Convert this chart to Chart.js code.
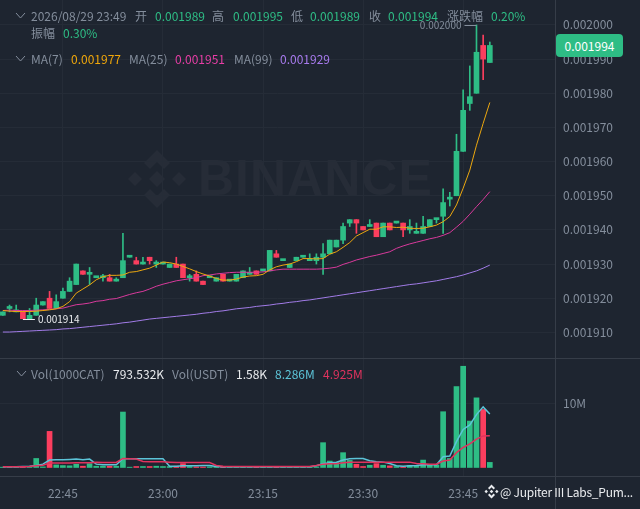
<!DOCTYPE html>
<html>
<head>
<meta charset="utf-8">
<script src="https://cdn.jsdelivr.net/npm/chart.js@4"></script>
<style>
  html, body { margin: 0; padding: 0; background: #1e2530; }
  #wrap { position: relative; width: 640px; height: 509px; overflow: hidden; font-family: "Noto Sans CJK SC", "Noto Sans", sans-serif; font-size: 12px; color: #848e9c; }
  #wrap span { position: absolute; white-space: nowrap; line-height: 16px; }
  canvas { position: absolute; left: 0; top: 0; }
  .g { color: #2ebd85; }
  .w { color: #eaecef; }
  #mark { position: absolute; left: 198px; top: 141px; font: bold 50px "Liberation Sans", sans-serif; letter-spacing: 1px; color: #262c37; line-height: 74px; }
  #pill { position: absolute; left: 556px; top: 34px; width: 67px; height: 23px; border-radius: 4px; background: #2ebd85; color: #fff; text-align: center; line-height: 23px; }
  svg { position: absolute; }
</style>
</head>
<body>
<div id="wrap">
  <svg style="left:126px;top:148px" width="62" height="62" viewBox="0 0 62 62" fill="#262c37">
    <path d="M31 2 L44 15 L38 21 L31 14 L24 21 L18 15 Z"/>
    <path d="M31 60 L18 47 L24 41 L31 48 L38 41 L44 47 Z"/>
    <path d="M2 31 L9 24 L16 31 L9 38 Z"/>
    <path d="M60 31 L53 24 L46 31 L53 38 Z"/>
    <path d="M31 23 L39 31 L31 39 L23 31 Z"/>
  </svg>
  <div id="mark">BINANCE</div>
  <canvas id="myChart" width="640" height="509"></canvas>

  <svg style="left:14px;top:11px" width="12" height="10" fill="none" stroke="#848e9c"><path d="M2 2 L6.5 7 L11 2"/></svg>
  <span style="left:31px;top:8px">2026/08/29 23:49</span>
  <span style="left:135px;top:8px">开</span><span class="g" style="left:155px;top:8px">0.001989</span>
  <span style="left:212px;top:8px">高</span><span class="g" style="left:233px;top:8px">0.001995</span>
  <span style="left:291px;top:8px">低</span><span class="g" style="left:310px;top:8px">0.001989</span>
  <span style="left:369px;top:8px">收</span><span class="g" style="left:388px;top:8px">0.001994</span>
  <span style="left:447px;top:8px">涨跌幅</span><span class="g" style="left:491px;top:8px">0.20%</span>
  <span style="left:31px;top:25px">振幅</span><span class="g" style="left:63px;top:25px">0.30%</span>

  <svg style="left:14px;top:54px" width="12" height="10" fill="none" stroke="#848e9c"><path d="M2 2 L6.5 7 L11 2"/></svg>
  <span style="left:31px;top:51px">MA(7)</span><span style="left:71px;top:51px;color:#f0a70a">0.001977</span>
  <span style="left:129px;top:51px">MA(25)</span><span style="left:175px;top:51px;color:#e83ea6">0.001951</span>
  <span style="left:234px;top:51px">MA(99)</span><span style="left:280px;top:51px;color:#a87bee">0.001929</span>

  <svg style="left:15px;top:369px" width="12" height="10" fill="none" stroke="#848e9c"><path d="M2 2 L6.5 7 L11 2"/></svg>
  <span style="left:31px;top:366px">Vol(1000CAT)</span><span class="w" style="left:113px;top:366px">793.532K</span>
  <span style="left:172px;top:366px">Vol(USDT)</span><span class="w" style="left:236px;top:366px">1.58K</span>
  <span style="left:275px;top:366px;color:#5cc4d8">8.286M</span><span style="left:323px;top:366px;color:#e0335e">4.925M</span>

  <div id="pill">0.001994</div>

  <svg style="left:484px;top:484px" width="15" height="15" viewBox="0 0 15 15" fill="#eaecef">
    <path d="M7.5 0.5 L11 4 L9.6 5.4 L7.5 3.3 L5.4 5.4 L4 4 Z"/>
    <path d="M7.5 14.5 L4 11 L5.4 9.6 L7.5 11.7 L9.6 9.6 L11 11 Z"/>
    <path d="M0.5 7.5 L2.2 5.8 L3.9 7.5 L2.2 9.2 Z"/>
    <path d="M14.5 7.5 L12.8 5.8 L11.1 7.5 L12.8 9.2 Z"/>
    <path d="M7.5 5.7 L9.3 7.5 L7.5 9.3 L5.7 7.5 Z"/>
  </svg>
  <span class="w" style="left:500px;top:484px;font-size:12px;letter-spacing:-0.25px">@ Jupiter III Labs_Pum...</span>
</div>

<script>
// minutes from 22:36 to 23:49
var categories = ['22:36','22:37','22:38','22:39','22:40','22:41','22:42','22:43','22:44','22:45','22:46','22:47','22:48','22:49','22:50','22:51','22:52','22:53','22:54','22:55','22:56','22:57','22:58','22:59','23:00','23:01','23:02','23:03','23:04','23:05','23:06','23:07','23:08','23:09','23:10','23:11','23:12','23:13','23:14','23:15','23:16','23:17','23:18','23:19','23:20','23:21','23:22','23:23','23:24','23:25','23:26','23:27','23:28','23:29','23:30','23:31','23:32','23:33','23:34','23:35','23:36','23:37','23:38','23:39','23:40','23:41','23:42','23:43','23:44','23:45','23:46','23:47','23:48','23:49'];

var opens = [0.001915,0.001917,0.001916,0.001916,0.001914,0.001915,0.001918,0.00192,0.001917,0.00192,0.001922,0.001924,0.001928,0.001927,0.001926,0.001926,0.001926,0.001925,0.001926,0.001932,0.001931,0.00193,0.001932,0.00193,0.00193,0.001929,0.00193,0.00193,0.001926,0.001927,
  0.001925,0.001926,0.001925,0.001927,0.001925,0.001925,0.001926,0.001927,0.001928,0.001928,0.001928,0.001933,0.001931,0.001929,0.001931,0.001932,0.001931,0.001931,0.001932,0.001933,0.001935,0.001937,0.001942,0.001943,0.001941,0.001941,0.001942,0.001938,0.001942,0.001942,
  0.001942,0.00194,0.001939,0.001939,0.001941,0.001943,0.001944,0.001949,0.00195,0.001963,0.001977,0.00198,0.001994,0.001989];
var highs = [0.001916,0.001918,0.001918,0.001916,0.001917,0.00192,0.001919,0.001922,0.001921,0.001923,0.001926,0.00193,0.001928,0.001929,0.001926,0.001927,0.001927,0.001926,0.001939,0.001932,0.001932,0.001932,0.001932,0.001931,0.00193,0.00193,0.001932,0.00193,0.001927,0.001928,
  0.001925,0.001926,0.001926,0.001927,0.001925,0.001927,0.001928,0.001929,0.001928,0.001928,0.001934,0.001934,0.001931,0.00193,0.001932,0.001932,0.001933,0.001933,0.001936,0.001937,0.001937,0.001942,0.001943,0.001943,0.001941,0.001943,0.001942,0.001942,0.001942,0.001942,
  0.001942,0.001943,0.001942,0.001944,0.001943,0.001943,0.001952,0.001951,0.001968,0.001981,0.001988,0.002,0.001997,0.001995];
var lows = [0.001915,0.001916,0.001916,0.001914,0.001914,0.001915,0.001918,0.001917,0.001917,0.00192,0.001922,0.001924,0.001927,0.001924,0.001926,0.001925,0.001925,0.001925,0.001926,0.001932,0.00193,0.00193,0.00193,0.001929,0.00193,0.001929,0.001929,0.001926,0.001925,0.001925,
  0.001924,0.001926,0.001925,0.001925,0.001925,0.001925,0.001926,0.001927,0.001927,0.001928,0.001928,0.001932,0.001931,0.001929,0.001931,0.001932,0.001931,0.00193,0.001927,0.001933,0.001935,0.001936,0.001941,0.001939,0.00194,0.001941,0.001938,0.001938,0.00194,0.001942,
  0.001938,0.001939,0.001939,0.001939,0.001941,0.001942,0.001939,0.001947,0.00195,0.001963,0.001975,0.00198,0.001984,0.001989];
var closes = [0.001916,0.001917,0.001916,0.001914,0.001915,0.001918,0.001919,0.001917,0.001919,0.001922,0.001925,0.00193,0.001927,0.001927,0.001926,0.001926,0.001925,0.001925,0.001931,0.001932,0.00193,0.00193,0.001931,0.00193,0.00193,0.00193,0.001929,0.001926,0.001926,0.001925,
  0.001924,0.001926,0.001926,0.001925,0.001925,0.001927,0.001928,0.001927,0.001927,0.001928,0.001934,0.001932,0.001931,0.00193,0.001932,0.001932,0.001931,0.001932,0.001933,0.001937,0.001937,0.001941,0.001943,0.001942,0.00194,0.001941,0.001938,0.001942,0.00194,0.001942,
  0.00194,0.001941,0.001939,0.001941,0.001943,0.001943,0.001948,0.001949,0.001963,0.001975,0.001979,0.001992,0.00199,0.001994];

var ma7 = [0.0019164,0.0019162,0.0019161,0.0019161,0.0019161,0.0019162,0.0019164,0.0019166,0.0019169,0.0019176,0.001919,0.0019215,0.0019227,0.0019239,0.0019254,0.0019263,0.0019267,0.0019267,0.0019268,0.0019276,0.0019278,0.0019283,0.0019288,0.0019297,0.0019306,0.0019304,0.00193,0.0019293,0.0019286,0.0019278,
  0.0019271,0.0019265,0.0019258,0.0019253,0.0019253,0.0019256,0.0019262,0.0019265,0.0019266,0.001927,0.0019283,0.0019292,0.0019297,0.00193,0.0019307,0.0019316,0.0019316,0.0019315,0.0019316,0.0019329,0.0019336,0.0019349,0.0019363,0.0019382,0.0019392,0.0019402,0.0019402,0.0019409,0.0019409,0.0019407,
  0.0019408,0.0019405,0.0019404,0.0019405,0.0019409,0.0019414,0.0019424,0.0019439,0.0019473,0.0019522,0.0019575,0.0019648,0.0019712,0.0019773];
var ma25 = [0.0019164,0.0019165,0.0019164,0.0019164,0.0019164,0.0019165,0.0019166,0.0019167,0.0019169,0.0019171,0.0019176,0.0019181,0.0019183,0.0019186,0.0019191,0.0019193,0.0019197,0.0019199,0.0019205,0.0019211,0.0019216,0.001922,0.0019227,0.0019235,0.0019241,0.0019246,0.0019251,0.0019254,0.0019257,0.001926,
  0.0019266,0.0019268,0.0019271,0.0019273,0.0019275,0.0019276,0.0019276,0.0019276,0.0019276,0.0019277,0.001928,0.0019283,0.0019285,0.0019285,0.0019285,0.0019285,0.0019285,0.0019285,0.0019286,0.0019288,0.0019291,0.0019299,0.0019305,0.0019312,0.0019317,0.0019322,0.0019326,0.0019331,0.0019336,0.0019346,
  0.0019353,0.0019359,0.0019364,0.0019369,0.0019374,0.0019378,0.0019384,0.0019392,0.0019408,0.0019425,0.0019446,0.0019468,0.0019489,0.0019512];
var ma99 = [0.0019101,0.0019101,0.0019102,0.0019103,0.0019104,0.0019105,0.0019106,0.0019107,0.0019108,0.001911,0.0019111,0.0019113,0.0019115,0.0019117,0.0019119,0.0019121,0.0019123,0.0019125,0.0019128,0.001913,0.0019133,0.0019136,0.0019139,0.0019141,0.0019143,0.0019145,0.0019147,0.0019149,0.0019151,0.0019153,
  0.0019156,0.0019158,0.0019161,0.0019163,0.0019166,0.0019169,0.0019171,0.0019173,0.0019176,0.0019178,0.001918,0.0019183,0.0019185,0.0019188,0.001919,0.0019193,0.0019195,0.0019198,0.0019201,0.0019204,0.0019207,0.001921,0.0019213,0.0019216,0.0019219,0.0019222,0.0019225,0.0019228,0.0019231,0.0019234,
  0.0019237,0.001924,0.0019242,0.0019245,0.0019248,0.0019251,0.0019255,0.0019259,0.0019263,0.0019268,0.0019274,0.001928,0.0019288,0.0019297];

// volumes in millions
var volumes = [0.05,0.06,0.05,0.08,0.06,1.4,0.1,5.6,0.4,0.3,0.26,0.5,0.2,0.6,0.2,0.2,0.2,0.2,8.6,0.05,0.15,0.15,0.15,0.2,0.15,0.15,0.2,0.6,0.15,0.1,
  0.08,0.1,0.06,0.1,0.08,0.05,0.08,0.06,0.1,0.05,0.08,0.06,0.08,0.06,0.05,0.08,0.1,0.1,3.85,1.0,0.8,2.3,1.1,0.5,0.15,0.35,0.6,0.35,0.25,0.15,
  0.1,0.3,0.3,1.15,0.5,0.4,8.65,1.4,12.55,15.7,7.2,10.8,9.0,0.79];
var volMa5 = [0.1,0.1,0.1,0.15,0.2,0.31,0.52,1.15,1.2,1.2,1.25,1.3,1.2,1.3,0.52,0.42,0.42,0.42,1.35,1.35,1.35,1.35,1.35,1.35,1.35,0.2,0.2,0.26,0.26,0.26,
  0.31,0.31,0.16,0.1,0.1,0.1,0.1,0.1,0.1,0.1,0.1,0.1,0.1,0.1,0.1,0.1,0.1,0.26,0.57,0.73,0.83,1.15,1.35,1.4,1.4,1.04,0.89,0.83,0.62,0.26,
  0.2,0.26,0.31,0.42,0.42,0.42,1.67,1.77,4.0,5.9,6.6,8.2,9.4,8.286];
var volMa10 = [0.1,0.1,0.1,0.12,0.16,0.26,0.36,0.68,0.68,0.68,0.68,0.73,0.73,0.73,0.83,0.78,0.78,0.78,1.4,1.35,1.3,0.94,0.89,0.89,0.89,0.83,0.78,0.78,0.78,0.78,
  0.78,0.78,0.31,0.2,0.16,0.16,0.16,0.16,0.16,0.16,0.16,0.16,0.16,0.16,0.16,0.16,0.16,0.31,0.52,0.57,0.57,0.73,0.83,0.83,0.83,0.83,0.83,0.83,0.83,0.83,
  0.83,0.83,0.62,0.57,0.52,0.52,1.0,1.15,2.3,3.1,3.65,4.4,4.9,4.925];

var priceTicks = [0.00191,0.00192,0.00193,0.00194,0.00195,0.00196,0.00197,0.00198,0.00199,0.002];
var volTicks = [10];
var timeTicks = [9,24,39,54,69];

var GREEN = '#2ebd85', RED = '#fb3e5e', GRID = '#252c37', EDGE = '#363d48';

function pairs(a, b) {
  return categories.map(function (c, i) { return { x: i, y: [a[i], b[i]] }; });
}
function points(a) {
  return categories.map(function (c, i) { return { x: i, y: a[i] }; });
}
var upDown = categories.map(function (c, i) { return closes[i] >= opens[i] ? GREEN : RED; });

function line(values, color, axis, width) {
  return { type: 'line', data: points(values), borderColor: color, borderWidth: width, pointRadius: 0, tension: 0, yAxisID: axis, order: 0 };
}
function noPadding(s) {
  s.paddingTop = s.paddingBottom = s.paddingLeft = s.paddingRight = 0;
}

// high / low marks next to the extreme candles
var extremes = {
  id: 'extremes',
  afterDatasetsDraw: function (chart) {
    var c = chart.ctx, x = chart.scales.x, y = chart.scales.y;
    c.save();
    c.font = '10px "Noto Sans CJK SC"';
    c.textBaseline = 'middle';
    c.lineWidth = 1;
    var hi = Math.round(y.getPixelForValue(0.002)) + 0.5;
    var hx = x.getPixelForValue(71);
    c.strokeStyle = c.fillStyle = '#848e9c';
    c.beginPath(); c.moveTo(hx - 12, hi); c.lineTo(hx, hi); c.stroke();
    c.textAlign = 'right';
    c.fillText('0.002000', hx - 15, hi);
    var lo = Math.round(y.getPixelForValue(0.001914)) + 0.5;
    var lx = x.getPixelForValue(3);
    c.strokeStyle = c.fillStyle = '#eaecef';
    c.beginPath(); c.moveTo(lx, lo); c.lineTo(lx + 12, lo); c.stroke();
    c.textAlign = 'left';
    c.fillText('0.001914', lx + 15, lo);
    c.restore();
  }
};

// pane separators run past the plot area
var separators = {
  id: 'separators',
  afterDraw: function (chart) {
    var c = chart.ctx, x = chart.scales.x, y = chart.scales.y;
    c.save();
    c.strokeStyle = EDGE;
    c.lineWidth = 1;
    c.beginPath();
    c.moveTo(0, Math.round(y.bottom) + 0.5); c.lineTo(chart.width, Math.round(y.bottom) + 0.5);
    c.moveTo(0, Math.round(x.top) + 0.5); c.lineTo(chart.width, Math.round(x.top) + 0.5);
    c.moveTo(Math.round(x.right) + 0.5, 0); c.lineTo(Math.round(x.right) + 0.5, chart.height);
    c.stroke();
    c.restore();
  }
};

var ctx = document.getElementById('myChart').getContext('2d');
var chart = new Chart(ctx, {
  type: 'bar',
  plugins: [extremes, separators],
  data: {
    datasets: [
      line(ma7, '#eda80f', 'y', 1),
      line(ma25, '#d93a9c', 'y', 1),
      line(ma99, '#a27ce8', 'y', 1),
      line(volMa10, '#e0335e', 'v', 1.5),
      line(volMa5, '#5cc4d8', 'v', 1.5),
      { data: pairs(lows, highs), backgroundColor: upDown, barThickness: 1, grouped: false, yAxisID: 'y', order: 2 },
      { data: pairs(opens, closes), backgroundColor: upDown, barThickness: 5, minBarLength: 2, grouped: false, yAxisID: 'y', order: 1 },
      { data: points(volumes), backgroundColor: upDown, barThickness: 5, grouped: false, yAxisID: 'v', order: 1 }
    ]
  },
  options: {
    responsive: false,
    animation: false,
    events: [],
    layout: { padding: 0 },
    plugins: { legend: { display: false }, tooltip: { enabled: false } },
    scales: {
      x: {
        type: 'linear',
        offset: false,
        min: -0.43,
        max: 82.77,
        afterFit: function (s) { s.height = 33; noPadding(s); },
        afterBuildTicks: function (s) { s.ticks = timeTicks.map(function (v) { return { value: v }; }); },
        ticks: {
          autoSkip: false, maxRotation: 0, color: '#848e9c', padding: 10,
          font: { family: 'Noto Sans CJK SC', size: 12 },
          callback: function (v) { return categories[v]; }
        },
        grid: { offset: false, color: GRID, tickLength: 0 },
        border: { color: EDGE }
      },
      y: {
        position: 'right', stack: 'panes', stackWeight: 358,
        min: 0.0019025, max: 0.0020073,
        afterFit: function (s) { s.width = 85; noPadding(s); },
        afterBuildTicks: function (s) { s.ticks = priceTicks.map(function (v) { return { value: v }; }); },
        ticks: {
          color: '#848e9c', padding: 8,
          font: { family: 'Noto Sans CJK SC', size: 12 },
          callback: function (v) { return v.toFixed(6); }
        },
        grid: { color: GRID, tickLength: 0 },
        border: { color: EDGE }
      },
      v: {
        position: 'right', stack: 'panes', stackWeight: 118,
        min: -1.32, max: 16.98,
        afterFit: function (s) { s.width = 85; noPadding(s); },
        afterBuildTicks: function (s) { s.ticks = volTicks.map(function (v) { return { value: v }; }); },
        ticks: {
          color: '#848e9c', padding: 8,
          font: { family: 'Noto Sans CJK SC', size: 12 },
          callback: function (v) { return v + 'M'; }
        },
        grid: { color: GRID, tickLength: 0 },
        border: { color: EDGE }
      }
    }
  }
});
</script>
</body>
</html>
